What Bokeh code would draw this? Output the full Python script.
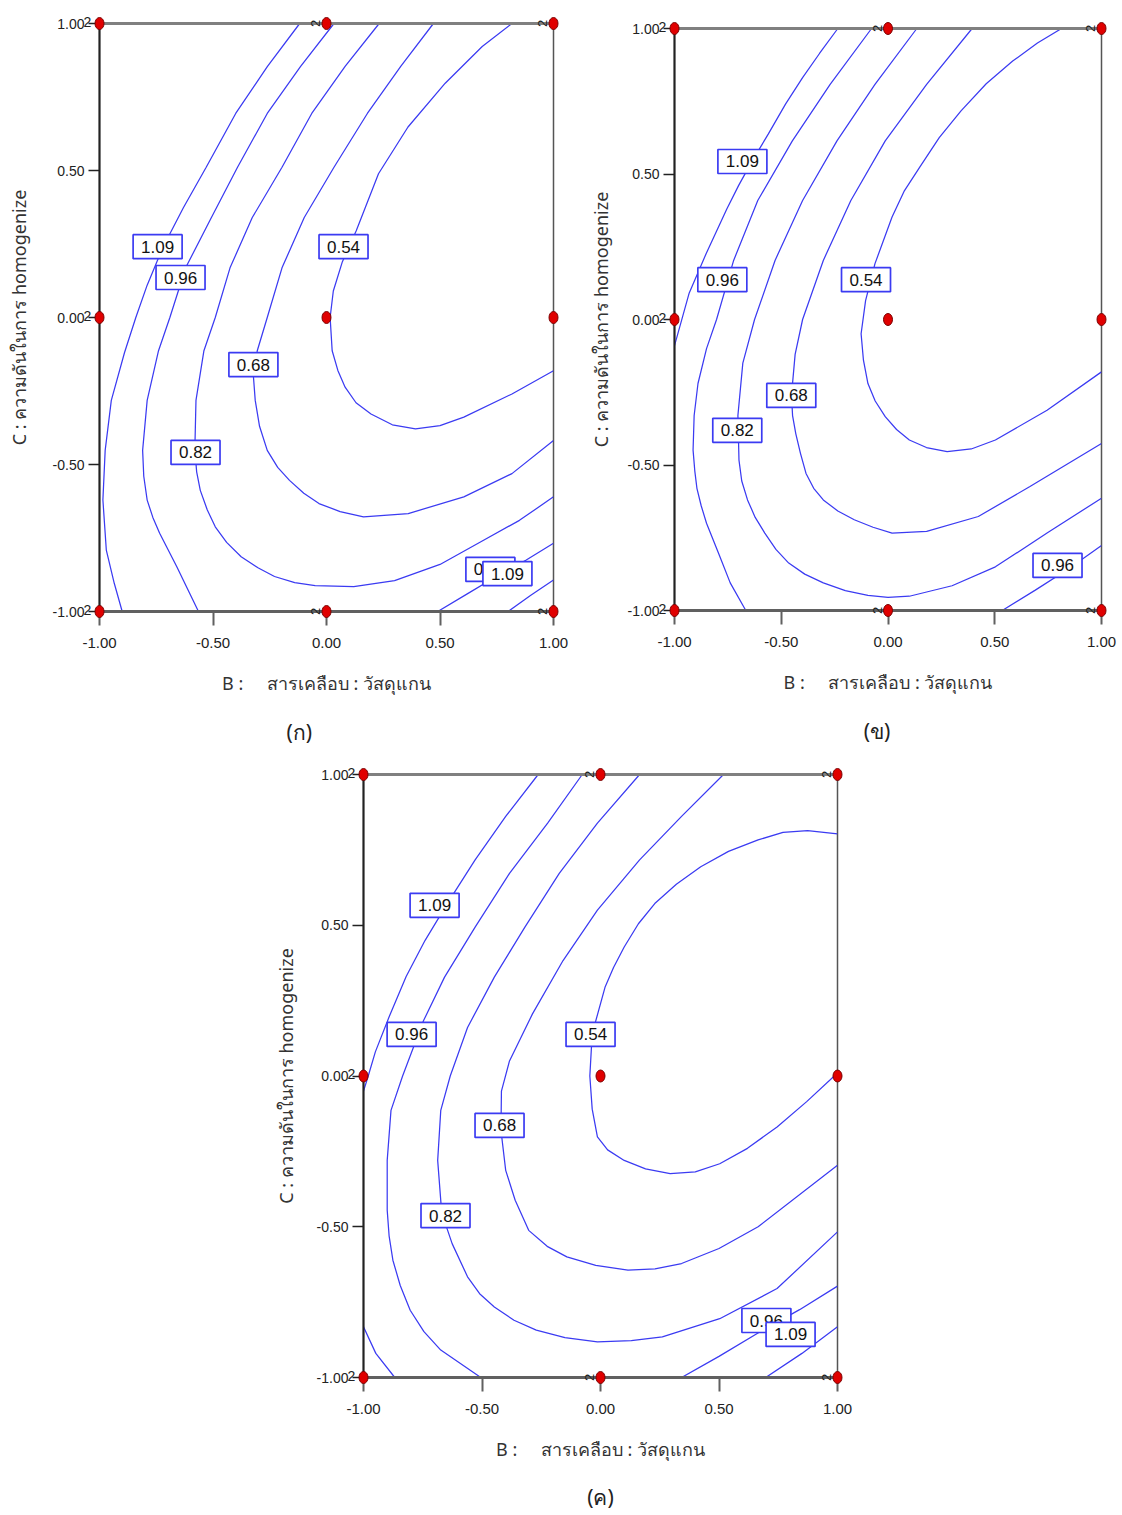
import math
from bokeh.plotting import figure
from bokeh.models import LinearAxis, FixedTicker, Spacer, Range1d, NumeralTickFormatter
from bokeh.layouts import row, column
from bokeh.embed import file_html
from bokeh.resources import INLINE
from bokeh.core.properties import value

# ---------------- data ----------------
TICKS = [-1.0, -0.5, 0.0, 0.5, 1.0]
X_LABEL = "B :\u00a0\u00a0\u00a0\u00a0\u00a0สารเคลือบ : วัสดุแกน"
Y_LABEL = "C : ความดันในการ homogenize"
CAPTIONS = ["(ก)", "(ข)", "(ค)"]

design_b = [-1, 0, 1, -1, 0, 1, -1, 0, 1]
design_c = [1, 1, 1, 0, 0, 0, -1, -1, -1]
rep_left_b = [-1, -1, -1]
rep_left_c = [1, 0, -1]
rep_edge_b = [0, 1, 0, 1]
rep_edge_c = [1, 1, -1, -1]

# panel (ก) contour lines
a_054_x = [0.817, 0.686, 0.523, 0.359, 0.229, 0.131, 0.070, 0.030, 0.016, 0.025, 0.05, 0.082, 0.13, 0.196, 0.29, 0.392, 0.50, 0.605, 0.817, 1.0]
a_054_y = [1.0, 0.922, 0.797, 0.648, 0.489, 0.295, 0.19, 0.09, 0.0, -0.113, -0.18, -0.237, -0.29, -0.328, -0.365, -0.379, -0.368, -0.339, -0.26, -0.181]
a_068_x = [0.471, 0.327, 0.18, 0.033, -0.098, -0.196, -0.261, -0.305, -0.322, -0.314, -0.295, -0.261, -0.215, -0.163, -0.10, -0.033, 0.06, 0.163, 0.36, 0.605, 0.817, 1.0]
a_068_y = [1.0, 0.854, 0.694, 0.511, 0.34, 0.169, 0.0, -0.113, -0.2, -0.282, -0.37, -0.452, -0.51, -0.554, -0.598, -0.633, -0.66, -0.678, -0.667, -0.61, -0.531, -0.418]
a_082_x = [0.232, 0.082, -0.065, -0.196, -0.327, -0.425, -0.49, -0.54, -0.575, -0.58, -0.572, -0.556, -0.525, -0.49, -0.44, -0.376, -0.30, -0.229, -0.14, -0.05, 0.12, 0.30, 0.50, 0.686, 0.85, 1.0]
a_082_y = [1.0, 0.854, 0.694, 0.511, 0.34, 0.169, 0.0, -0.113, -0.282, -0.45, -0.525, -0.588, -0.655, -0.712, -0.765, -0.814, -0.852, -0.881, -0.902, -0.912, -0.915, -0.895, -0.84, -0.76, -0.69, -0.61]
a_096_x = [0.033, -0.114, -0.261, -0.392, -0.507, -0.62, -0.69, -0.74, -0.79, -0.81, -0.805, -0.79, -0.765, -0.735, -0.66, -0.564]
a_096_y = [1.0, 0.854, 0.694, 0.511, 0.34, 0.17, 0.0, -0.113, -0.282, -0.452, -0.54, -0.621, -0.68, -0.734, -0.847, -1.0]
a_109_x = [-0.118, -0.26, -0.40, -0.53, -0.63, -0.72, -0.79, -0.84, -0.89, -0.948, -0.975, -0.985, -0.97, -0.935, -0.90]
a_109_y = [1.0, 0.854, 0.694, 0.511, 0.374, 0.24, 0.11, 0.0, -0.12, -0.282, -0.452, -0.621, -0.791, -0.904, -1.0]
a_096b_x = [0.49, 0.62, 0.75, 0.88, 1.0]
a_096b_y = [-1.0, -0.94, -0.88, -0.825, -0.768]
a_109b_x = [0.80, 0.90, 1.0]
a_109b_y = [-1.0, -0.945, -0.893]

a_lab_text = ["1.09", "0.96", "0.54", "0.68", "0.82", "0.96", "1.09"]
a_lab_x = [-0.744, -0.643, 0.075, -0.322, -0.577, 0.722, 0.797]
a_lab_y = [0.241, 0.136, 0.241, -0.160, -0.459, -0.857, -0.871]

# panel (ข) contour lines
b_054_x = [0.813, 0.70, 0.584, 0.46, 0.342, 0.24, 0.148, 0.075, 0.019, -0.061, -0.105, -0.126, -0.115, -0.094, -0.06, -0.013, 0.04, 0.1, 0.18, 0.277, 0.39, 0.503, 0.745, 1.0]
b_054_y = [1.0, 0.95, 0.888, 0.81, 0.717, 0.625, 0.523, 0.44, 0.352, 0.192, 0.065, -0.049, -0.14, -0.22, -0.28, -0.334, -0.378, -0.414, -0.44, -0.454, -0.445, -0.414, -0.312, -0.18]
b_068_x = [0.394, 0.181, -0.013, -0.174, -0.303, -0.40, -0.435, -0.452, -0.447, -0.432, -0.41, -0.384, -0.348, -0.303, -0.235, -0.158, -0.07, 0.019, 0.181, 0.423, 0.665, 1.0]
b_068_y = [1.0, 0.808, 0.614, 0.409, 0.203, 0.0, -0.12, -0.26, -0.33, -0.392, -0.46, -0.529, -0.58, -0.62, -0.658, -0.688, -0.714, -0.734, -0.728, -0.677, -0.574, -0.426]
b_082_x = [0.135, -0.061, -0.239, -0.4, -0.529, -0.625, -0.68, -0.703, -0.698, -0.685, -0.658, -0.622, -0.577, -0.525, -0.465, -0.39, -0.303, -0.20, -0.094, 0.0, 0.1, 0.30, 0.503, 0.745, 1.0]
b_082_y = [1.0, 0.808, 0.614, 0.409, 0.203, 0.0, -0.15, -0.33, -0.483, -0.555, -0.62, -0.68, -0.734, -0.79, -0.837, -0.875, -0.905, -0.932, -0.948, -0.955, -0.951, -0.915, -0.85, -0.734, -0.614]
b_096_x = [-0.077, -0.271, -0.448, -0.61, -0.723, -0.803, -0.85, -0.89, -0.908, -0.913, -0.905, -0.895, -0.875, -0.85, -0.79, -0.739, -0.666]
b_096_y = [1.0, 0.808, 0.614, 0.409, 0.203, 0.0, -0.1, -0.22, -0.33, -0.449, -0.52, -0.58, -0.64, -0.70, -0.81, -0.905, -1.0]
b_109_x = [-0.235, -0.32, -0.40, -0.48, -0.561, -0.64, -0.70, -0.755, -0.852, -0.932, -1.0]
b_109_y = [1.0, 0.915, 0.831, 0.74, 0.637, 0.54, 0.46, 0.38, 0.226, 0.089, -0.09]
b_096b_x = [0.535, 0.69, 0.85, 1.0]
b_096b_y = [-1.0, -0.93, -0.855, -0.777]

b_lab_text = ["1.09", "0.96", "0.54", "0.68", "0.82", "0.96"]
b_lab_x = [-0.682, -0.776, -0.103, -0.453, -0.706, 0.794]
b_lab_y = [0.543, 0.137, 0.137, -0.261, -0.381, -0.845]

# panel (ค) contour lines
c_054_x = [1.0, 0.874, 0.77, 0.665, 0.54, 0.423, 0.32, 0.229, 0.16, 0.1, 0.055, 0.019, -0.035, -0.045, -0.035, -0.013, 0.03, 0.1, 0.19, 0.294, 0.40, 0.503, 0.62, 0.745, 0.87, 1.0]
c_054_y = [0.803, 0.814, 0.808, 0.783, 0.745, 0.694, 0.636, 0.572, 0.505, 0.428, 0.36, 0.294, 0.14, 0.0, -0.11, -0.202, -0.245, -0.28, -0.308, -0.324, -0.318, -0.291, -0.24, -0.169, -0.085, 0.01]
c_068_x = [0.519, 0.342, 0.165, -0.013, -0.158, -0.287, -0.384, -0.418, -0.42, -0.4, -0.36, -0.303, -0.225, -0.142, -0.02, 0.116, 0.23, 0.342, 0.50, 0.665, 1.0]
c_068_y = [1.0, 0.861, 0.717, 0.55, 0.383, 0.206, 0.05, -0.05, -0.18, -0.313, -0.412, -0.512, -0.565, -0.6, -0.628, -0.644, -0.64, -0.622, -0.572, -0.5, -0.296]
c_082_x = [0.165, -0.013, -0.174, -0.319, -0.448, -0.561, -0.634, -0.674, -0.687, -0.67, -0.626, -0.561, -0.51, -0.448, -0.365, -0.271, -0.15, -0.013, 0.13, 0.261, 0.503, 0.745, 1.0]
c_082_y = [1.0, 0.839, 0.672, 0.494, 0.328, 0.161, 0.0, -0.114, -0.28, -0.454, -0.556, -0.666, -0.722, -0.766, -0.81, -0.843, -0.868, -0.882, -0.878, -0.865, -0.805, -0.705, -0.517]
c_096_x = [-0.077, -0.223, -0.384, -0.529, -0.658, -0.747, -0.835, -0.884, -0.9, -0.9, -0.892, -0.876, -0.845, -0.803, -0.745, -0.674, -0.505]
c_096_y = [1.0, 0.839, 0.672, 0.494, 0.328, 0.183, 0.0, -0.114, -0.28, -0.445, -0.53, -0.611, -0.695, -0.777, -0.848, -0.909, -1.0]
c_109_x = [-0.263, -0.40, -0.529, -0.64, -0.74, -0.82, -0.89, -0.95, -0.98, -1.0]
c_109_y = [1.0, 0.861, 0.717, 0.58, 0.45, 0.33, 0.2, 0.08, 0.0, -0.05]
c_109l_x = [-1.0, -0.948, -0.868]
c_109l_y = [-0.832, -0.92, -1.0]
c_096b_x = [0.342, 0.5, 0.67, 0.84, 1.0]
c_096b_y = [-1.0, -0.93, -0.85, -0.775, -0.697]
c_109b_x = [0.697, 0.85, 1.0]
c_109b_y = [-1.0, -0.92, -0.832]

c_lab_text = ["1.09", "0.96", "0.54", "0.68", "0.82", "0.96", "1.09"]
c_lab_x = [-0.70, -0.797, -0.042, -0.426, -0.654, 0.70, 0.802]
c_lab_y = [0.566, 0.138, 0.138, -0.164, -0.463, -0.811, -0.857]

# ---------------- styling ----------------
LINE_BLUE = "#3b3bf2"
TICK_FONT = "Liberation Sans"
THAI_FONT = "Noto Sans"
NBSP = "\u00a0"


def make_panel(width, height, left, right, top, bottom, xs, ys, lab_t, lab_x, lab_y,
               caption, cap_pad, ylab_standoff, cap_standoff):
    p = figure(width=width, height=height,
               x_range=Range1d(-1, 1), y_range=Range1d(-1, 1),
               output_backend="svg", toolbar_location=None,
               min_border_left=left, min_border_right=right,
               min_border_top=top, min_border_bottom=bottom,
               x_axis_label=X_LABEL, y_axis_label=Y_LABEL)
    p.grid.visible = False
    p.background_fill_color = "white"
    p.border_fill_color = "white"
    p.outline_line_color = "#555555"
    p.outline_line_width = 1.5

    for ax in (p.xaxis[0], p.yaxis[0]):
        ax.ticker = FixedTicker(ticks=TICKS)
        ax.formatter = NumeralTickFormatter(format="0.00")
        ax.minor_tick_line_color = None
        ax.major_tick_in = 0
        ax.major_label_text_font = TICK_FONT
        ax.major_label_text_color = "#222222"
        ax.axis_label_text_font = THAI_FONT
        ax.axis_label_text_font_style = "normal"
        ax.axis_label_text_color = "#333333"
    xa = p.xaxis[0]
    xa.axis_line_color = "#606060"
    xa.axis_line_width = 3
    xa.major_tick_line_color = "#606060"
    xa.major_tick_line_width = 2
    xa.major_tick_out = 14
    xa.major_label_text_font_size = "15px"
    xa.major_label_standoff = 12
    xa.axis_label_standoff = 20
    xa.axis_label_text_font_size = "18px"
    ya = p.yaxis[0]
    ya.axis_line_color = "#222222"
    ya.axis_line_width = 2
    ya.major_tick_line_color = "#222222"
    ya.major_tick_line_width = 1.5
    ya.major_tick_out = 11
    ya.major_label_text_font_size = "14px"
    ya.major_label_standoff = 4
    ya.axis_label_standoff = ylab_standoff
    ya.axis_label_text_font_size = "18px"

    top_axis = LinearAxis(ticker=FixedTicker(ticks=[]), axis_line_color="#808080",
                          axis_line_width=3, major_tick_out=0, major_tick_in=0,
                          minor_tick_out=0, minor_tick_in=0)
    p.add_layout(top_axis, "above")

    # caption "(ก)" etc. as a label of a bare axis under the x axis
    cap_axis = LinearAxis(ticker=FixedTicker(ticks=[]), axis_line_color=None,
                          major_tick_out=0, major_tick_in=0, minor_tick_out=0,
                          minor_tick_in=0, major_label_standoff=0,
                          axis_label=caption + NBSP * cap_pad,
                          axis_label_standoff=cap_standoff,
                          axis_label_text_font=THAI_FONT,
                          axis_label_text_font_size="21px",
                          axis_label_text_font_style="normal",
                          axis_label_text_color="#222222")
    p.add_layout(cap_axis, "below")

    p.multi_line(xs=xs, ys=ys, line_color=LINE_BLUE, line_width=1.25)

    for t, lx, ly in zip(lab_t, lab_x, lab_y):
        p.rect(x=[lx], y=[ly], width=49, height=24, width_units="screen",
               height_units="screen", fill_color="white", line_color=LINE_BLUE,
               line_width=1.7)
        p.text(x=[lx], y=[ly], text=[t], text_align="center", text_baseline="middle",
               text_font=value(TICK_FONT), text_font_size="17px",
               text_color="#111111")

    p.ellipse(x=design_b, y=design_c, width=9, height=12, width_units="screen",
              height_units="screen", fill_color="#e00000", line_color="#7a0000",
              line_width=1, level="overlay")
    p.text(x=rep_left_b, y=rep_left_c, text=["2"] * len(rep_left_b), x_offset=-12,
           y_offset=-2, text_align="center", text_baseline="middle",
           text_font=value(TICK_FONT), text_font_size="14px", text_color="#222222",
           level="overlay")
    p.text(x=rep_edge_b, y=rep_edge_c, text=["2"] * len(rep_edge_b), x_offset=-11,
           y_offset=0, angle=math.pi / 2, text_align="center", text_baseline="middle",
           text_font=value(TICK_FONT), text_font_size="13px", text_color="#222222",
           level="overlay")
    return p


pa = make_panel(585, 750, 99, 32, 23, 139,
                [a_054_x, a_068_x, a_082_x, a_096_x, a_109_x, a_096b_x, a_109b_x],
                [a_054_y, a_068_y, a_082_y, a_096_y, a_109_y, a_096b_y, a_109b_y],
                a_lab_text, a_lab_x, a_lab_y, CAPTIONS[0], 10, 19, 20)
pb = make_panel(537, 745, 88, 21, 23, 140,
                [b_054_x, b_068_x, b_082_x, b_096_x, b_109_x, b_096b_x],
                [b_054_y, b_068_y, b_082_y, b_096_y, b_109_y, b_096b_y],
                b_lab_text, b_lab_x, b_lab_y, CAPTIONS[1], 4, 12, 20)
pc = make_panel(640, 765, 103, 63, 24, 138,
                [c_054_x, c_068_x, c_082_x, c_096_x, c_109_x, c_109l_x, c_096b_x, c_109b_x],
                [c_054_y, c_068_y, c_082_y, c_096_y, c_109_y, c_109l_y, c_096b_y, c_109b_y],
                c_lab_text, c_lab_x, c_lab_y, CAPTIONS[2], 0, 16, 19)

layout = column(row(pa, column(Spacer(width=537, height=5), pb)),
                row(Spacer(width=260, height=765), pc))

with open("out.html", "w") as f:
    f.write(file_html(layout, INLINE))
